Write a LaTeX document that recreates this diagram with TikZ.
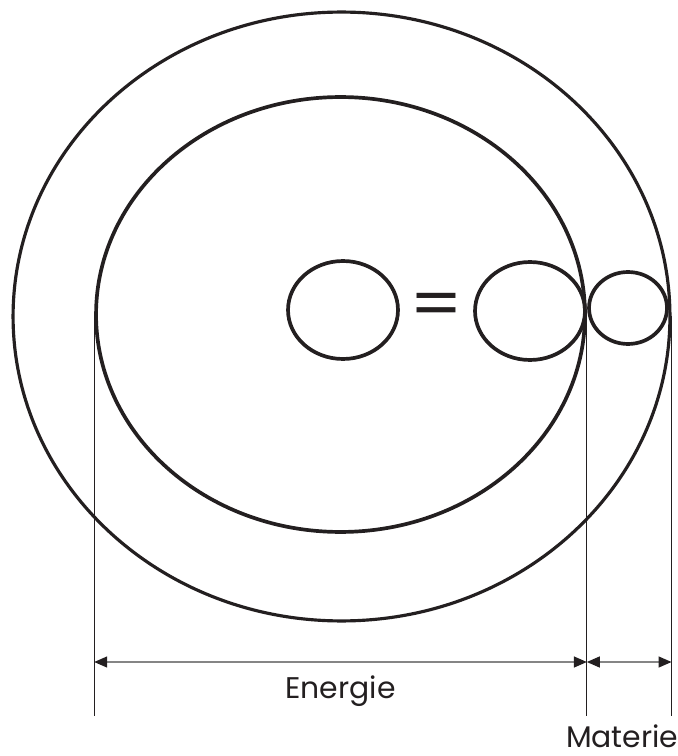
\documentclass[tikz,border=0pt]{standalone}
\usepackage{fontspec}
\setmainfont{Poppins}
\usetikzlibrary{arrows.meta, shapes.geometric, positioning}
\definecolor{cink}{HTML}{231F20}
\definecolor{cdim}{HTML}{858585}
\tikzset{
  every picture/.style={line width=1.8pt},
  ring/.style={ellipse, draw=cink, inner sep=0pt, line width=#1},
  ring/.default=2.1pt,
  ext/.style={draw=cink, line width=0.7pt},
  dim/.style={{Triangle[length=2.6mm, width=2.2mm, color=cink]}-{Triangle[length=2.6mm, width=2.2mm, color=cink]}, draw=cdim, line width=0.8pt},
  lab/.style={font=\fontsize{17}{20}\selectfont, text=cink, inner sep=0pt},
}

\begin{document}
\begin{tikzpicture}[x=0.02cm, y=-0.02cm]
  \useasboundingbox (0,0) rectangle (677,756);
  % the two big rings
  \node[ring=1.8pt, minimum width=13.14cm, minimum height=12.18cm] (outer) at (341.5,316.5) {};
  \node[ring, minimum width=9.78cm, minimum height=8.7cm] (inner) at (340.5,314.5) {};
  % circles in the middle
  \node[ring, minimum width=2.2cm, minimum height=1.96cm] (lhs) at (343,310) {};
  \node[ring, minimum width=2.2cm, minimum height=1.96cm] (rhs) at (530,311) {};
  \node[ring, minimum width=1.56cm, minimum height=1.44cm] (mat) at (628,308) {};
  \node[text=cink, font=\fontsize{38}{38}\selectfont, inner sep=0pt] (eq) at (436.5,310.5) {\scalebox{1.12}[1]{=}};
  % extension lines
  \coordinate (foot) at (0,716);
  \coordinate (lvl) at (0,662);
  \draw[ext] (inner.west) -- (inner.west |- foot);
  \draw[ext] (rhs.east) -- (rhs.east |- foot);
  \draw[ext] (outer.east) -- (outer.east |- foot);
  % dimensions
  \draw[dim] (inner.west |- lvl) -- node[lab, below=0.26cm] (energie) {Energie} (rhs.east |- lvl);
  \draw[dim] (rhs.east |- lvl) -- node[lab, below=1.24cm, xshift=-0.14cm] (materie) {Materie} (outer.east |- lvl);
\end{tikzpicture}
\end{document}
